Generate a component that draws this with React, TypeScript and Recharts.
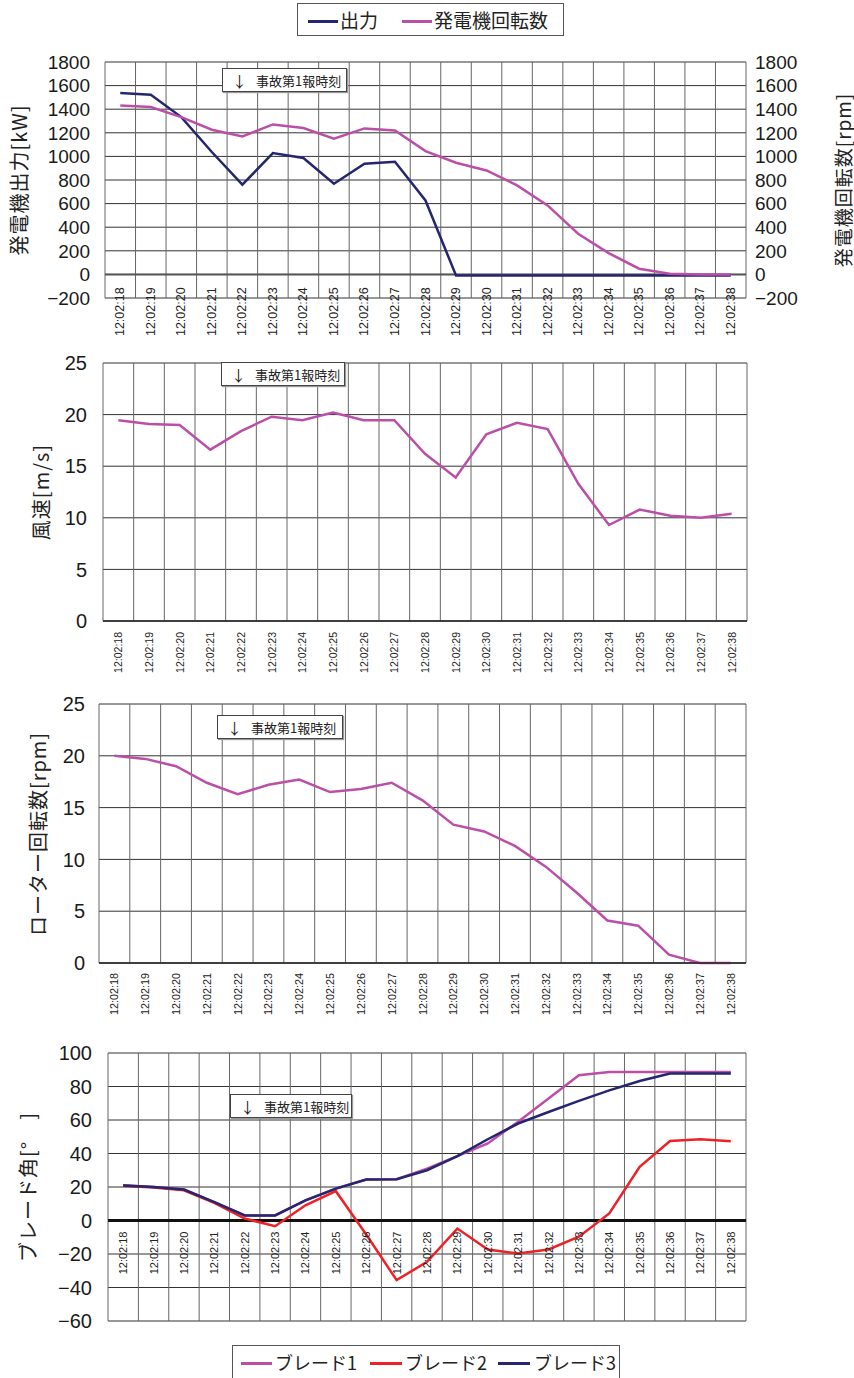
import React from "react";
import { LineChart, Line, XAxis, YAxis, CartesianGrid, ReferenceLine } from "recharts";

const times = [
  "12:02:18", "12:02:19", "12:02:20", "12:02:21", "12:02:22", "12:02:23", "12:02:24",
  "12:02:25", "12:02:26", "12:02:27", "12:02:28", "12:02:29", "12:02:30", "12:02:31",
  "12:02:32", "12:02:33", "12:02:34", "12:02:35", "12:02:36", "12:02:37", "12:02:38",
];

// 発電機出力[kW] / 発電機回転数[rpm]
const output = [1537, 1523, 1333, 1037, 760, 1028, 986, 768, 938, 955, 627, -10, -10, -10, -10, -10, -10, -10, -10, -10, -10];
const genSpeed = [1432, 1418, 1333, 1226, 1169, 1271, 1240, 1150, 1237, 1220, 1045, 946, 881, 754, 585, 345, 181, 48, 5, 0, 0];
const powerTicks = [-200, 0, 200, 400, 600, 800, 1000, 1200, 1400, 1600, 1800];

// 風速[m/s]
const wind = [19.45, 19.1, 19.0, 16.6, 18.4, 19.8, 19.45, 20.2, 19.45, 19.45, 16.2, 13.9, 18.1, 19.2, 18.6, 13.3, 9.3, 10.8, 10.2, 10.0, 10.4];
// ローター回転数[rpm]
const rotor = [20.0, 19.7, 19.0, 17.4, 16.3, 17.2, 17.7, 16.5, 16.8, 17.4, 15.7, 13.35, 12.7, 11.3, 9.3, 6.8, 4.1, 3.6, 0.8, 0, 0];
const speedTicks = [0, 5, 10, 15, 20, 25];

// ブレード角[°]
const blade1 = [21, 20, 18.5, 11, 3, 3, 12, 19, 24.5, 24.7, 31, 38.4, 46, 59, 72.8, 86.7, 88.7, 88.7, 88.7, 88.7, 88.7];
const blade2 = [20.7, 19.7, 18, 10.5, 1.2, -3.4, 9.1, 17.5, -8.4, -35.6, -24.7, -4.8, -17.3, -19.7, -17.3, -9.7, 4.2, 32, 47.5, 48.5, 47.3];
const blade3 = [20.9, 20, 18.5, 11, 3, 3, 12, 19, 24.5, 24.7, 30, 38.4, 48.5, 57.9, 64.8, 71.4, 77.7, 83.3, 87.7, 87.7, 87.7];
const angleTicks = [-60, -40, -20, 0, 20, 40, 60, 80, 100];

const rows = times.map((t, i) => ({
  t,
  output: output[i],
  genSpeed: genSpeed[i],
  wind: wind[i],
  rotor: rotor[i],
  blade1: blade1[i],
  blade2: blade2[i],
  blade3: blade3[i],
}));

const NAVY = "#26256f";
const MAGENTA = "#bb4fa8";
const RED = "#ec2227";
const FONT = "'Liberation Sans', Arial, 'Noto Sans CJK JP', sans-serif";
const JP = "'Noto Sans CJK JP', 'Liberation Sans', sans-serif";

const fmt = (v: number) => (v < 0 ? `\u2212${-v}` : `${v}`);

// gridlines between categories (Excel style)
const bandLines = ({ offset }: any) =>
  times.concat([""]).map((_, i) => offset.left + (i * offset.width) / times.length);

// half a category on each side so points sit in the middle of each band
const half = (plotWidth: number) => plotWidth / times.length / 2;

function timeTick(lift: number, gap: number, size: number) {
  return (props: any) => {
    const { x, y, payload } = props;
    return (
      <text
        transform={`translate(${x},${y - lift + gap}) rotate(-90)`}
        textAnchor="end"
        dominantBaseline="central"
        fontSize={size}
        fontFamily={FONT}
        fill="#222"
      >
        {payload.value}
      </text>
    );
  };
}

function AxisTitle({ text, cx, cy, size = 20 }: { text: string; cx: number; cy: number; size?: number }) {
  return (
    <text
      transform={`translate(${cx},${cy}) rotate(-90)`}
      textAnchor="middle"
      dominantBaseline="central"
      fontSize={size}
      fontFamily={JP}
      fill="#222"
      letterSpacing={1}
    >
      {text}
    </text>
  );
}

function Note({ left, top, width }: { left: number; top: number; width: number }) {
  return (
    <div
      style={{
        position: "absolute",
        left,
        top,
        width,
        height: 24,
        boxSizing: "border-box",
        border: "1px solid #444",
        boxShadow: "1px 1px 1px #999",
        background: "#fff",
        display: "flex",
        alignItems: "center",
        fontFamily: JP,
        color: "#222",
      }}
    >
      <span style={{ fontSize: 15, marginLeft: 9, marginRight: 9 }}>↓</span>
      <span style={{ fontSize: 13 }}>事故第1報時刻</span>
    </div>
  );
}

const yTick = (size: number) => ({ fontSize: size, fill: "#1a1a1a", fontFamily: FONT });

const hGrid = (id?: string) => (
  <CartesianGrid vertical={false} stroke="#333" yAxisId={id} />
);
const vGrid = (
  <CartesianGrid horizontal={false} stroke="#666" verticalCoordinatesGenerator={bandLines} />
);

export default function App() {
  const p1 = half(854 - 105 - 108);
  const p2 = half(854 - 103 - 107);
  const p3 = half(854 - 99 - 108);
  const p4 = half(854 - 108 - 108);
  return (
    <div style={{ position: "absolute", left: 0, top: 0, width: 854, height: 1378, background: "#fff" }}>
      {/* 1: 発電機出力 / 発電機回転数 */}
      <div style={{ position: "absolute", left: 0, top: 40 }}>
        <LineChart width={854} height={310} data={rows} margin={{ top: 22, right: 0, bottom: 0, left: 0 }}>
          {hGrid("left")}
          {vGrid}
          <XAxis
            dataKey="t"
            type="category"
            interval={0}
            height={52}
            padding={{ left: p1, right: p1 }}
            tickSize={0}
            tickMargin={0}
            axisLine={false}
            tick={timeTick(23.6, 13, 12.5)}
          />
          <YAxis
            yAxisId="left"
            width={105}
            domain={[-200, 1800]}
            ticks={powerTicks}
            interval={0}
            tickSize={0}
            tickMargin={15}
            axisLine={false}
            tickFormatter={fmt}
            tick={yTick(19)}
            label={<AxisTitle text="発電機出力[kW]" cx={18} cy={140} />}
          />
          <YAxis
            yAxisId="right"
            orientation="right"
            width={108}
            domain={[-200, 1800]}
            ticks={powerTicks}
            interval={0}
            tickSize={0}
            tickMargin={9}
            axisLine={false}
            tickFormatter={fmt}
            tick={yTick(19)}
            label={<AxisTitle text="発電機回転数[rpm]" cx={842} cy={140} size={19} />}
          />
          <ReferenceLine yAxisId="left" y={0} stroke="#555" strokeWidth={2} />
          <Line yAxisId="left" dataKey="output" stroke={NAVY} strokeWidth={2.5} dot={false} isAnimationActive={false} />
          <Line yAxisId="right" dataKey="genSpeed" stroke={MAGENTA} strokeWidth={2.5} dot={false} isAnimationActive={false} />
        </LineChart>
      </div>

      {/* 2: 風速 */}
      <div style={{ position: "absolute", left: 0, top: 350 }}>
        <LineChart width={854} height={340} data={rows} margin={{ top: 13, right: 107, bottom: 0, left: 0 }}>
          {hGrid()}
          {vGrid}
          <XAxis
            dataKey="t"
            type="category"
            interval={0}
            height={69}
            padding={{ left: p2, right: p2 }}
            tickSize={0}
            tickMargin={0}
            axisLine={{ stroke: "#222", strokeWidth: 1.5 }}
            tick={timeTick(0, 11, 10.5)}
          />
          <YAxis
            width={103}
            domain={[0, 25]}
            ticks={speedTicks}
            interval={0}
            tickSize={0}
            tickMargin={16}
            axisLine={false}
            tick={yTick(20)}
            label={<AxisTitle text="風速[m/s]" cx={40} cy={142} />}
          />
          <Line dataKey="wind" stroke={MAGENTA} strokeWidth={2.5} dot={false} isAnimationActive={false} />
        </LineChart>
      </div>

      {/* 3: ローター回転数 */}
      <div style={{ position: "absolute", left: 0, top: 690 }}>
        <LineChart width={854} height={340} data={rows} margin={{ top: 14, right: 108, bottom: 0, left: 0 }}>
          {hGrid()}
          {vGrid}
          <XAxis
            dataKey="t"
            type="category"
            interval={0}
            height={67}
            padding={{ left: p3, right: p3 }}
            tickSize={0}
            tickMargin={0}
            axisLine={{ stroke: "#222", strokeWidth: 1.5 }}
            tick={timeTick(0, 10, 10.8)}
          />
          <YAxis
            width={99}
            domain={[0, 25]}
            ticks={speedTicks}
            interval={0}
            tickSize={0}
            tickMargin={14}
            axisLine={false}
            tick={yTick(20)}
            label={<AxisTitle text="ローター回転数[rpm]" cx={37} cy={144} />}
          />
          <Line dataKey="rotor" stroke={MAGENTA} strokeWidth={2.5} dot={false} isAnimationActive={false} />
        </LineChart>
      </div>

      {/* 4: ブレード角 */}
      <div style={{ position: "absolute", left: 0, top: 1030 }}>
        <LineChart width={854} height={310} data={rows} margin={{ top: 23, right: 108, bottom: 0, left: 0 }}>
          {hGrid()}
          {vGrid}
          <XAxis
            dataKey="t"
            type="category"
            interval={0}
            height={19}
            padding={{ left: p4, right: p4 }}
            tickSize={0}
            tickMargin={0}
            axisLine={false}
            tick={timeTick(100.5, 11, 11)}
          />
          <YAxis
            width={108}
            domain={[-60, 100]}
            ticks={angleTicks}
            interval={0}
            tickSize={0}
            tickMargin={16}
            axisLine={false}
            tickFormatter={fmt}
            tick={yTick(20)}
            label={<AxisTitle text="ブレード角[°　]" cx={27} cy={157} />}
          />
          <ReferenceLine y={0} stroke="#111" strokeWidth={3} />
          <Line dataKey="blade1" stroke={MAGENTA} strokeWidth={2.5} dot={false} isAnimationActive={false} />
          <Line dataKey="blade2" stroke={RED} strokeWidth={2.5} dot={false} isAnimationActive={false} />
          <Line dataKey="blade3" stroke={NAVY} strokeWidth={2.5} dot={false} isAnimationActive={false} />
        </LineChart>
      </div>

      <Note left={222} top={68} width={125} />
      <Note left={221} top={362} width={124} />
      <Note left={217} top={715} width={126} />
      <Note left={230} top={1094} width={122} />

      {/* legend: 出力 / 発電機回転数 */}
      <div
        style={{
          position: "absolute",
          left: 297,
          top: 3,
          width: 267,
          height: 33,
          boxSizing: "border-box",
          border: "1px solid #555",
          background: "#fff",
          fontFamily: JP,
          fontSize: 19,
          color: "#222",
        }}
      >
        <div style={{ position: "absolute", left: 10, top: 16, width: 30, height: 3, background: NAVY }} />
        <div style={{ position: "absolute", left: 42, top: 2, lineHeight: "27px" }}>出力</div>
        <div style={{ position: "absolute", left: 104, top: 16, width: 30, height: 3, background: MAGENTA }} />
        <div style={{ position: "absolute", left: 136, top: 2, lineHeight: "27px" }}>発電機回転数</div>
      </div>

      {/* legend: ブレード1-3 */}
      <div
        style={{
          position: "absolute",
          left: 232,
          top: 1345,
          width: 388,
          height: 40,
          boxSizing: "border-box",
          border: "1px solid #555",
          background: "#fff",
          fontFamily: JP,
          fontSize: 18,
          color: "#222",
        }}
      >
        <div style={{ position: "absolute", left: 8, top: 16, width: 31, height: 3, background: MAGENTA }} />
        <div style={{ position: "absolute", left: 42, top: 2, lineHeight: "28px" }}>ブレード1</div>
        <div style={{ position: "absolute", left: 137, top: 16, width: 32, height: 3, background: RED }} />
        <div style={{ position: "absolute", left: 172, top: 2, lineHeight: "28px" }}>ブレード2</div>
        <div style={{ position: "absolute", left: 265, top: 16, width: 32, height: 3, background: NAVY }} />
        <div style={{ position: "absolute", left: 301, top: 2, lineHeight: "28px" }}>ブレード3</div>
      </div>
    </div>
  );
}
